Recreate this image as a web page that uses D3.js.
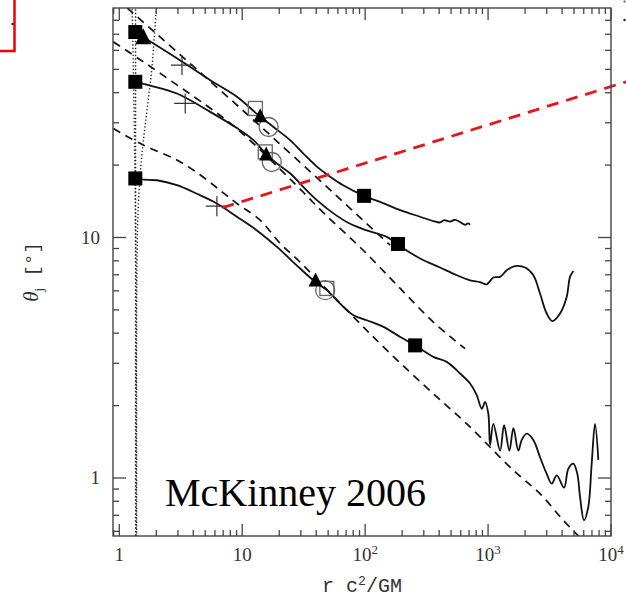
<!DOCTYPE html>
<html><head><meta charset="utf-8">
<script src="https://d3js.org/d3.v7.min.js"></script>
<style>body{margin:0;background:#fff}svg{display:block}</style>
</head><body>
<svg id="c" width="626" height="598"></svg>
<script>
// ---- data (r in GM/c^2, theta_j in degrees) ----
const curveTop = [[1.35,71.7],[1.567,68.2],[2.944,55.6],[5.49,45.1],[9.06,38.5],[13.5,32.3],[17.96,28.8],[24.5,25.4],[31.3,22.4],[40.5,19.7],[51.9,17.9],[66.2,16.5],[98.2,14.9],[140,13.9],[193,13.0],[280,12.2],[360,11.7],[407,11.55],[440,11.8],[491,11.65],[540,11.85],[592,11.6],[650,11.3],[690,11.45],[714,11.3]];
const curveMid = [[1.35,44.4],[1.73,43.0],[2.944,39.7],[5.49,33.3],[9.06,28.5],[12.36,25.4],[15.67,22.2],[19.15,20.3],[24.5,18.5],[31.5,16.2],[40.5,14.3],[55.2,12.6],[75.5,11.4],[103,10.7],[150,10.06],[187,9.29],[280,8.18],[407,7.50],[557,6.97],[714,6.64],[861,6.53],[976,6.39],[1104,6.82],[1253,6.86],[1419,7.31],[1660,7.60],[2000,7.50],[2335,6.97],[2646,5.85],[3000,4.83],[3335,4.49],[3850,4.83],[4360,5.66],[4640,6.86],[4940,7.26]];
const curveLow = [[1.35,17.6],[1.576,17.4],[2.026,17.3],[2.944,16.5],[4.28,15.2],[6.22,13.85],[9.06,12.2],[13.17,10.7],[19.15,9.14],[29.6,7.43],[39.2,6.54],[48.8,6.04],[62.6,5.31],[80.4,4.75],[103,4.53],[141,4.25],[193,3.86],[255,3.56],[359,3.19],[461,3.04],[592,2.72],[714,2.47],[809,2.21],[889,1.94],[946,2.07],[1005,1.85],[1038,1.37],[1104,1.68],[1253,1.30],[1350,1.66],[1490,1.30],[1607,1.61],[1763,1.30],[1879,1.44],[2064,1.53],[2335,1.44],[2646,1.22],[3000,1.04],[3296,0.948],[3622,1.026],[4150,0.912],[4500,1.094],[4940,1.148],[5325,1.04],[5600,0.834],[6030,0.667],[6535,0.758],[6965,1.148],[7413,1.68],[7890,1.19]];
const fitTop = [[1.162,89.9],[12.36,30.8],[159.7,9.29]];
const fitMid = [[0.894,65.1],[1.567,53.8],[2.962,43.0],[5.19,35.2],[7.98,29.9],[12.75,24.2],[20.4,19.2],[29.6,15.9],[45.6,12.7],[96.4,8.85],[193,6.14],[357,4.46],[650,3.45]];
const fitLow = [[0.894,28.4],[1.576,24.2],[2.944,21.0],[4.56,18.2],[6.62,15.7],[9.06,13.85],[14.0,11.8],[20.4,9.44],[29.6,7.89],[75.5,4.83],[150,3.40],[359,2.24],[671,1.68],[1607,1.076],[2646,0.861],[4093,0.667],[5900,0.55]];
const redFit = [[6.9,13.3],[13240,44.4]];
const dotVertical = [[1.357,95],[1.357,0.5]];
const dotLeft = [[1.27,95],[1.35,14.3],[1.37,0.5]];
const dotCurved = [[2.0,90],[1.845,51.3],[1.68,33.8],[1.53,22.4],[1.435,14.3],[1.393,8.05],[1.385,0.5]];
const filledSquares = [[1.35,71.5],[1.35,44.4],[1.35,17.6],[98,14.9],[185,9.4],[255,3.56]];
const filledTriangles = [[1.567,68.2],[14.0,32.0],[15.67,22.2],[39.5,6.65]];
const openSquares = [[12.8,34.4],[15.4,22.7],[48.8,6.14]];
const openCircles = [[16.4,28.8],[17.4,20.6],[47.3,6.04]];
const crosses = [[3.235,52.1],[3.44,36.1],[6.22,13.5]];
const xMajor = [1,10,100,1000,10000];
const xTickLabels = [["1",""],["10",""],["10","2"],["10","3"],["10","4"]];
const yMajor = [1,10];
const yTickLabels = ["1","10"];
const xMinor = [0.9,2,3,4,5,6,7,8,9,20,30,40,50,60,70,80,90,200,300,400,500,600,700,800,900,2000,3000,4000,5000,6000,7000,8000,9000];
const yMinor = [0.6,0.7,0.8,0.9,2,3,4,5,6,7,8,9,20,30,40,50,60,70,80];
const panelLabel = "McKinney 2006";

// ---- layout ----
const L=113, R=611, T=8, B=536;
const x = d3.scaleLog().domain([0.889,10000]).range([L,R]);
const y = d3.scaleLog().domain([0.574,90]).range([B,T]);
const svg = d3.select("#c");
const frameCol = "#444";

svg.append("defs").append("clipPath").attr("id","clip")
  .append("rect").attr("x",L).attr("y",T).attr("width",R-L).attr("height",B-T);

// stray bits of neighbouring panels
svg.append("rect").attr("x",-5).attr("y",-5).attr("width",19.5).attr("height",56)
  .attr("fill","none").attr("stroke","#e00").attr("stroke-width",2.5);
svg.append("circle").attr("cx",12.5).attr("cy",24).attr("r",1.2).attr("fill","#222");
svg.append("circle").attr("cx",624.5).attr("cy",1.5).attr("r",1).attr("fill","#444");
svg.append("circle").attr("cx",624.5).attr("cy",20).attr("r",1.2).attr("fill","#222");

const g = svg.append("g").attr("clip-path","url(#clip)");
const line = d3.line().x(d=>x(d[0])).y(d=>y(d[1]));
const smooth = d3.line().x(d=>x(d[0])).y(d=>y(d[1])).curve(d3.curveCatmullRom.alpha(0.5));

// dotted
[dotVertical,dotLeft,dotCurved].forEach(d=>{
  g.append("path").attr("d",smooth(d)).attr("fill","none").attr("stroke","#222")
   .attr("stroke-width",1.4).attr("stroke-dasharray","1.3,2.2");
});
// dashed fits
[fitTop,fitMid,fitLow].forEach(d=>{
  g.append("path").attr("d",smooth(d)).attr("fill","none").attr("stroke","#111")
   .attr("stroke-width",1.7).attr("stroke-dasharray","8,6");
});
// solid curves
[curveTop,curveMid,curveLow].forEach(d=>{
  g.append("path").attr("d",smooth(d)).attr("fill","none").attr("stroke","#111")
   .attr("stroke-width",1.8).attr("stroke-linejoin","round");
});

// markers
const gm = svg.append("g");
openSquares.forEach(d=>{
  gm.append("rect").attr("x",x(d[0])-7).attr("y",y(d[1])-7).attr("width",14).attr("height",14)
    .attr("fill","none").attr("stroke","#666").attr("stroke-width",1.3);
});
openCircles.forEach(d=>{
  gm.append("circle").attr("cx",x(d[0])).attr("cy",y(d[1])).attr("r",9.5)
    .attr("fill","none").attr("stroke","#666").attr("stroke-width",1.3);
});
filledSquares.forEach(d=>{
  gm.append("rect").attr("x",x(d[0])-7).attr("y",y(d[1])-7).attr("width",14).attr("height",14)
    .attr("fill","#000");
});
filledTriangles.forEach((d,i)=>{
  const s = i===0?16:14;
  const cx=x(d[0]), cy=y(d[1]);
  gm.append("path").attr("d",`M${cx},${cy-s*0.55}L${cx+s/2},${cy+s*0.45}L${cx-s/2},${cy+s*0.45}Z`).attr("fill","#000");
});
crosses.forEach(d=>{
  const cx=x(d[0]), cy=y(d[1]);
  gm.append("path").attr("d",`M${cx-11},${cy}H${cx+11}M${cx},${cy-10}V${cy+10}`)
    .attr("stroke","#333").attr("stroke-width",1.2);
});

// red dashed (not clipped)
svg.append("path").attr("d",line(redFit)).attr("fill","none").attr("stroke","#e8141a")
  .attr("stroke-width",2.8).attr("stroke-dasharray","12,8");

// frame
svg.append("rect").attr("x",L).attr("y",T).attr("width",R-L).attr("height",B-T)
  .attr("fill","none").attr("stroke",frameCol).attr("stroke-width",1.4);
const tk = svg.append("g").attr("stroke",frameCol).attr("stroke-width",1.3);
xMajor.forEach(v=>{ const p=x(v);
  tk.append("line").attr("x1",p).attr("x2",p).attr("y1",B).attr("y2",B-12);
  tk.append("line").attr("x1",p).attr("x2",p).attr("y1",T).attr("y2",T+12);});
xMinor.forEach(v=>{ const p=x(v);
  tk.append("line").attr("x1",p).attr("x2",p).attr("y1",B).attr("y2",B-6);
  tk.append("line").attr("x1",p).attr("x2",p).attr("y1",T).attr("y2",T+6);});
yMajor.forEach(v=>{ const p=y(v);
  tk.append("line").attr("y1",p).attr("y2",p).attr("x1",L).attr("x2",L+13);
  tk.append("line").attr("y1",p).attr("y2",p).attr("x1",R).attr("x2",R-13);});
yMinor.forEach(v=>{ const p=y(v);
  tk.append("line").attr("y1",p).attr("y2",p).attr("x1",L).attr("x2",L+6);
  tk.append("line").attr("y1",p).attr("y2",p).attr("x1",R).attr("x2",R-6);});

// tick labels
const serif = "'Liberation Serif','Times New Roman',serif";
xMajor.forEach((v,i)=>{
  const t = svg.append("text").attr("x",x(v)).attr("y",561).attr("text-anchor","middle")
    .attr("font-family",serif).attr("font-size",19).attr("fill","#333");
  t.append("tspan").text(xTickLabels[i][0]);
  if(xTickLabels[i][1]) t.append("tspan").attr("dy",-7).attr("font-size",13).text(xTickLabels[i][1]);
});
yMajor.forEach((v,i)=>{
  svg.append("text").attr("x",100).attr("y",y(v)+6).attr("text-anchor","end")
    .attr("font-family",serif).attr("font-size",19).attr("fill","#333").text(yTickLabels[i]);
});
// axis titles
const mono = "'Liberation Mono','DejaVu Sans Mono',monospace";
const xt = svg.append("text").attr("x",362).attr("y",592).attr("text-anchor","middle")
  .attr("font-family",mono).attr("font-size",20).attr("fill","#333");
xt.append("tspan").text("r c");
xt.append("tspan").attr("dy",-7).attr("font-size",13).text("2");
xt.append("tspan").attr("dy",7).text("/GM");
const yt = svg.append("text").attr("transform","translate(38,272) rotate(-90)").attr("text-anchor","middle")
  .attr("font-size",19).attr("fill","#333");
yt.append("tspan").attr("font-family",serif).attr("font-style","italic").attr("font-size",21).text("θ");
yt.append("tspan").attr("font-family",serif).attr("font-size",13).attr("dy",5).text("j");
yt.append("tspan").attr("font-family",mono).attr("dy",-5).text(" [°]");

// panel label
svg.append("text").attr("x",165).attr("y",506).attr("font-family",serif).attr("font-size",40)
  .attr("fill","#000").text(panelLabel);
</script>
</body></html>
